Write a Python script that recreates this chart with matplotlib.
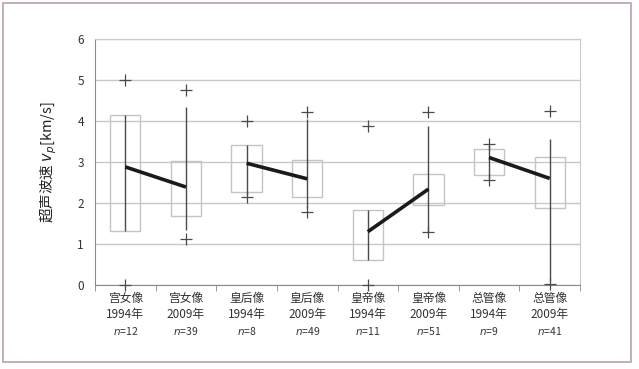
#!/usr/bin/env python3
import matplotlib
matplotlib.use('Agg')
import matplotlib.pyplot as plt
from matplotlib.patches import Rectangle
import numpy as np

plt.rcParams['font.family'] = ['Noto Sans CJK SC', 'DejaVu Sans']

# data
statues = ['宫女像', '宫女像', '皇后像', '皇后像', '皇帝像', '皇帝像', '总管像', '总管像']
years = ['1994年', '2009年', '1994年', '2009年', '1994年', '2009年', '1994年', '2009年']
counts = [12, 39, 8, 49, 11, 51, 9, 41]
box_low = [1.31, 1.68, 2.26, 2.15, 0.62, 1.95, 2.69, 1.87]
box_high = [4.14, 3.02, 3.41, 3.06, 1.84, 2.70, 3.31, 3.11]
whisk_low = [1.31, 1.34, 2.20, 1.87, 0.62, 1.30, 2.58, 0.10]
whisk_high = [4.14, 4.34, 3.42, 4.06, 1.84, 3.87, 3.42, 3.57]
max_vals = [5.0, 4.76, 4.01, 4.22, 3.89, 4.22, 3.45, 4.24]
min_vals = [0.0, 1.13, 2.14, 1.77, 0.0, 1.30, 2.55, 0.03]
means = [2.88, 2.39, 2.97, 2.59, 1.30, 2.34, 3.11, 2.60]

x = np.arange(len(statues))

fig = plt.figure(figsize=(6.39, 3.69), dpi=100)
ax = fig.add_axes([0.1487, 0.2276, 0.7590, 0.6667])

# outer frame
fig.patches.append(Rectangle((0.005, 0.019), 0.983, 0.973, transform=fig.transFigure,
                             fill=False, edgecolor='#b9a3a3', linewidth=1.2))

ax.set_xlim(-0.5, len(statues) - 0.5)
ax.set_ylim(0, 6)
ax.yaxis.grid(True, color='#c8c8c8', linewidth=1)
ax.set_axisbelow(True)
for s in ax.spines.values():
    s.set_color('#c8c8c8')
ax.spines['left'].set_color('#8a8a8a')
ax.spines['bottom'].set_color('#8a8a8a')

# boxes
for xi, lo, hi in zip(x, box_low, box_high):
    ax.add_patch(Rectangle((xi - 0.25, lo), 0.5, hi - lo, fill=False,
                           edgecolor='#c4c4c4', linewidth=1, zorder=2))

# whiskers
ax.vlines(x, whisk_low, whisk_high, color='#4a4a4a', linewidth=1.0, zorder=3)

# max / min markers
ax.plot(x, max_vals, '+', color='#4a4a4a', markersize=8, markeredgewidth=0.9, zorder=4)
ax.plot(x, min_vals, '+', color='#4a4a4a', markersize=8, markeredgewidth=0.9, zorder=4,
        clip_on=False)

# mean lines per statue pair
for i in range(0, len(statues), 2):
    ax.plot(x[i:i + 2], means[i:i + 2], color='#1a1a1a', linewidth=2.6,
            solid_capstyle='butt', zorder=5)

ax.set_yticks(range(0, 7))
ax.tick_params(axis='y', length=0, labelsize=8.5, labelcolor='#333333', pad=8)
ax.set_xticks(x)
ax.set_xticklabels([])
ax.tick_params(axis='x', which='major', length=0)
ax.set_xticks(np.arange(-0.5, len(statues), 1), minor=True)
ax.tick_params(axis='x', which='minor', length=4, color='#8a8a8a')

trans = ax.get_xaxis_transform()
for xi, st, yr, n in zip(x, statues, years, counts):
    ax.text(xi, -0.055, st, transform=trans, ha='center', va='center',
            fontsize=8.5, color='#333333')
    ax.text(xi, -0.12, yr, transform=trans, ha='center', va='center',
            fontsize=8.5, color='#333333')
    ax.text(xi, -0.185, r'$\it{n}$=' + str(n), transform=trans, ha='center',
            va='center', fontsize=7.5, color='#333333')

ax.set_ylabel('超声波速 $v_p$[km/s]', fontsize=10.5, color='#222222', labelpad=13)

fig.savefig('out.png', dpi=100)
